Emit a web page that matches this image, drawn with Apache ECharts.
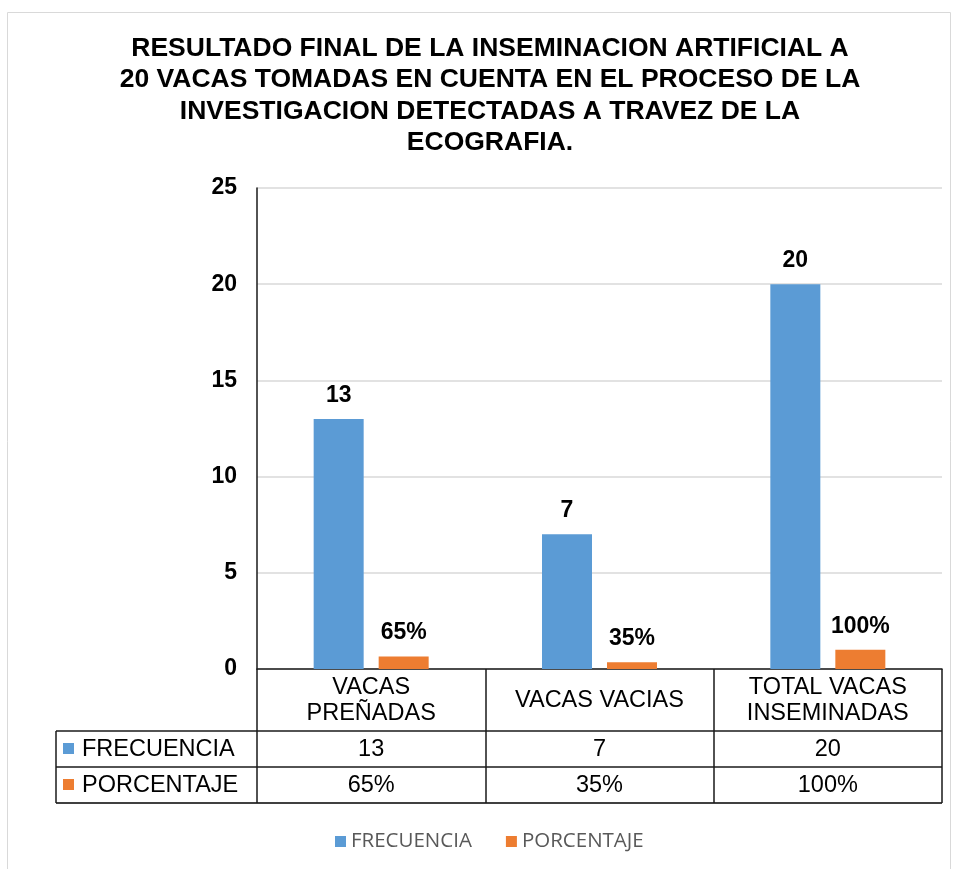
<!DOCTYPE html>
<html>
<head>
<meta charset="utf-8">
<script src="https://cdn.jsdelivr.net/npm/echarts@6/dist/echarts.min.js"></script>
<style>
html,body{margin:0;padding:0;background:#fff;}
#chart{width:956px;height:869px;}
</style>
</head>
<body>
<div id="chart"></div>
<script>
const titleLines = [
  'RESULTADO FINAL DE LA INSEMINACION ARTIFICIAL A',
  '20 VACAS TOMADAS EN CUENTA EN EL PROCESO DE LA',
  'INVESTIGACION DETECTADAS A TRAVEZ DE LA',
  'ECOGRAFIA.'
];
const categories = ['VACAS\nPREÑADAS', 'VACAS VACIAS', 'TOTAL VACAS\nINSEMINADAS'];
const seriesNames = ['FRECUENCIA', 'PORCENTAJE'];
const frecuencia = [13, 7, 20];
const porcentaje = [0.65, 0.35, 1.0];
const yTicks = { min: 0, max: 25, interval: 5 };

const colors = ['#5B9BD5', '#ED7D31'];
const pctLabel = v => Math.round(v * 100) + '%';

const chart = echarts.init(document.getElementById('chart'), null, { renderer: 'canvas' });

const G = { left: 257, right: 942, top: 188, bottom: 669 };
const rowTop = [669, 731, 767, 803];
const tableLeft = 56;
const lineColor = '#1a1a1a';
const lblFont = 'Liberation Sans, Arial, sans-serif';
const tblSize = 23.5;

const graphics = [
  { type: 'rect', shape: { x: 7.5, y: 12.5, width: 943, height: 880 },
    style: { fill: 'none', stroke: '#d9d9d9', lineWidth: 1 }, silent: true },
  { type: 'text', style: { text: titleLines.join('\n'), x: 490, y: 33, align: 'center', verticalAlign: 'top',
      font: 'bold 26.5px ' + lblFont, lineHeight: 31.3, fill: '#000' } },
  { type: 'line', shape: { x1: tableLeft, y1: rowTop[1], x2: G.right, y2: rowTop[1] }, style: { stroke: lineColor, lineWidth: 1.5 } },
  { type: 'line', shape: { x1: tableLeft, y1: rowTop[2], x2: G.right, y2: rowTop[2] }, style: { stroke: lineColor, lineWidth: 1.5 } },
  { type: 'line', shape: { x1: tableLeft, y1: rowTop[3], x2: G.right, y2: rowTop[3] }, style: { stroke: '#404040', lineWidth: 2 } },
  { type: 'line', shape: { x1: tableLeft, y1: rowTop[1], x2: tableLeft, y2: rowTop[3] }, style: { stroke: lineColor, lineWidth: 1.5 } }
];
seriesNames.forEach((n, i) => {
  const cy = (rowTop[i + 1] + rowTop[i + 2]) / 2;
  graphics.push({ type: 'rect', shape: { x: 63, y: cy - 6, width: 11, height: 11 }, style: { fill: colors[i] } });
  graphics.push({ type: 'text', style: { text: n, x: 82, y: cy + 1, verticalAlign: 'middle', align: 'left',
      font: tblSize + 'px ' + lblFont, fill: '#000' } });
});

const option = {
  animation: false,
  color: colors,
  grid: { left: G.left, right: 956 - G.right, top: G.top, bottom: 869 - G.bottom, containLabel: false },
  legend: {
    data: seriesNames,
    left: 330, top: 826,
    icon: 'rect', itemWidth: 11, itemHeight: 11, itemGap: 34,
    textStyle: { color: '#595959', fontSize: 20.5, fontFamily: 'Open Sans' }
  },
  xAxis: [
    {
      type: 'category', data: categories, position: 'bottom',
      axisLine: { show: true, lineStyle: { color: lineColor, width: 1.5 } },
      axisTick: { show: true, length: rowTop[3] - rowTop[0], interval: 0, lineStyle: { color: lineColor, width: 1.5 } },
      axisLabel: { interval: 0, margin: (rowTop[0] + rowTop[1]) / 2 - G.bottom + 1, verticalAlign: 'middle',
        fontSize: tblSize, lineHeight: 26, color: '#000', fontFamily: lblFont },
      splitLine: { show: false }
    },
    {
      type: 'category', data: frecuencia.map(String), position: 'bottom', gridIndex: 0,
      axisLine: { show: false }, axisTick: { show: false }, splitLine: { show: false },
      axisLabel: { interval: 0, margin: (rowTop[1] + rowTop[2]) / 2 - G.bottom + 1, verticalAlign: 'middle',
        fontSize: tblSize, color: '#000', fontFamily: lblFont }
    },
    {
      type: 'category', data: porcentaje.map(pctLabel), position: 'bottom', gridIndex: 0,
      axisLine: { show: false }, axisTick: { show: false }, splitLine: { show: false },
      axisLabel: { interval: 0, margin: (rowTop[2] + rowTop[3]) / 2 - G.bottom + 1, verticalAlign: 'middle',
        fontSize: tblSize, color: '#000', fontFamily: lblFont }
    }
  ],
  yAxis: {
    type: 'value', min: yTicks.min, max: yTicks.max, interval: yTicks.interval,
    axisLine: { show: true, lineStyle: { color: lineColor, width: 1.5 } },
    axisTick: { show: false },
    axisLabel: { fontSize: 23, fontWeight: 'bold', color: '#000', margin: 20, fontFamily: lblFont },
    splitLine: { show: true, lineStyle: { color: '#d9d9d9', width: 1.5 } }
  },
  series: [
    {
      name: seriesNames[0], type: 'bar', data: frecuencia, xAxisIndex: 0,
      barWidth: 50, barGap: '30%',
      itemStyle: { color: colors[0] },
      label: { show: true, position: 'top', distance: 12, fontSize: 23, fontWeight: 'bold', color: '#000', fontFamily: lblFont }
    },
    {
      name: seriesNames[1], type: 'bar', data: porcentaje, xAxisIndex: 0,
      barWidth: 50, barGap: '30%',
      itemStyle: { color: colors[1] },
      label: { show: true, position: 'top', distance: 12, fontSize: 23, fontWeight: 'bold', color: '#000', fontFamily: lblFont,
        formatter: p => pctLabel(p.value) }
    }
  ],
  graphic: graphics
};
chart.setOption(option);
</script>
</body>
</html>
